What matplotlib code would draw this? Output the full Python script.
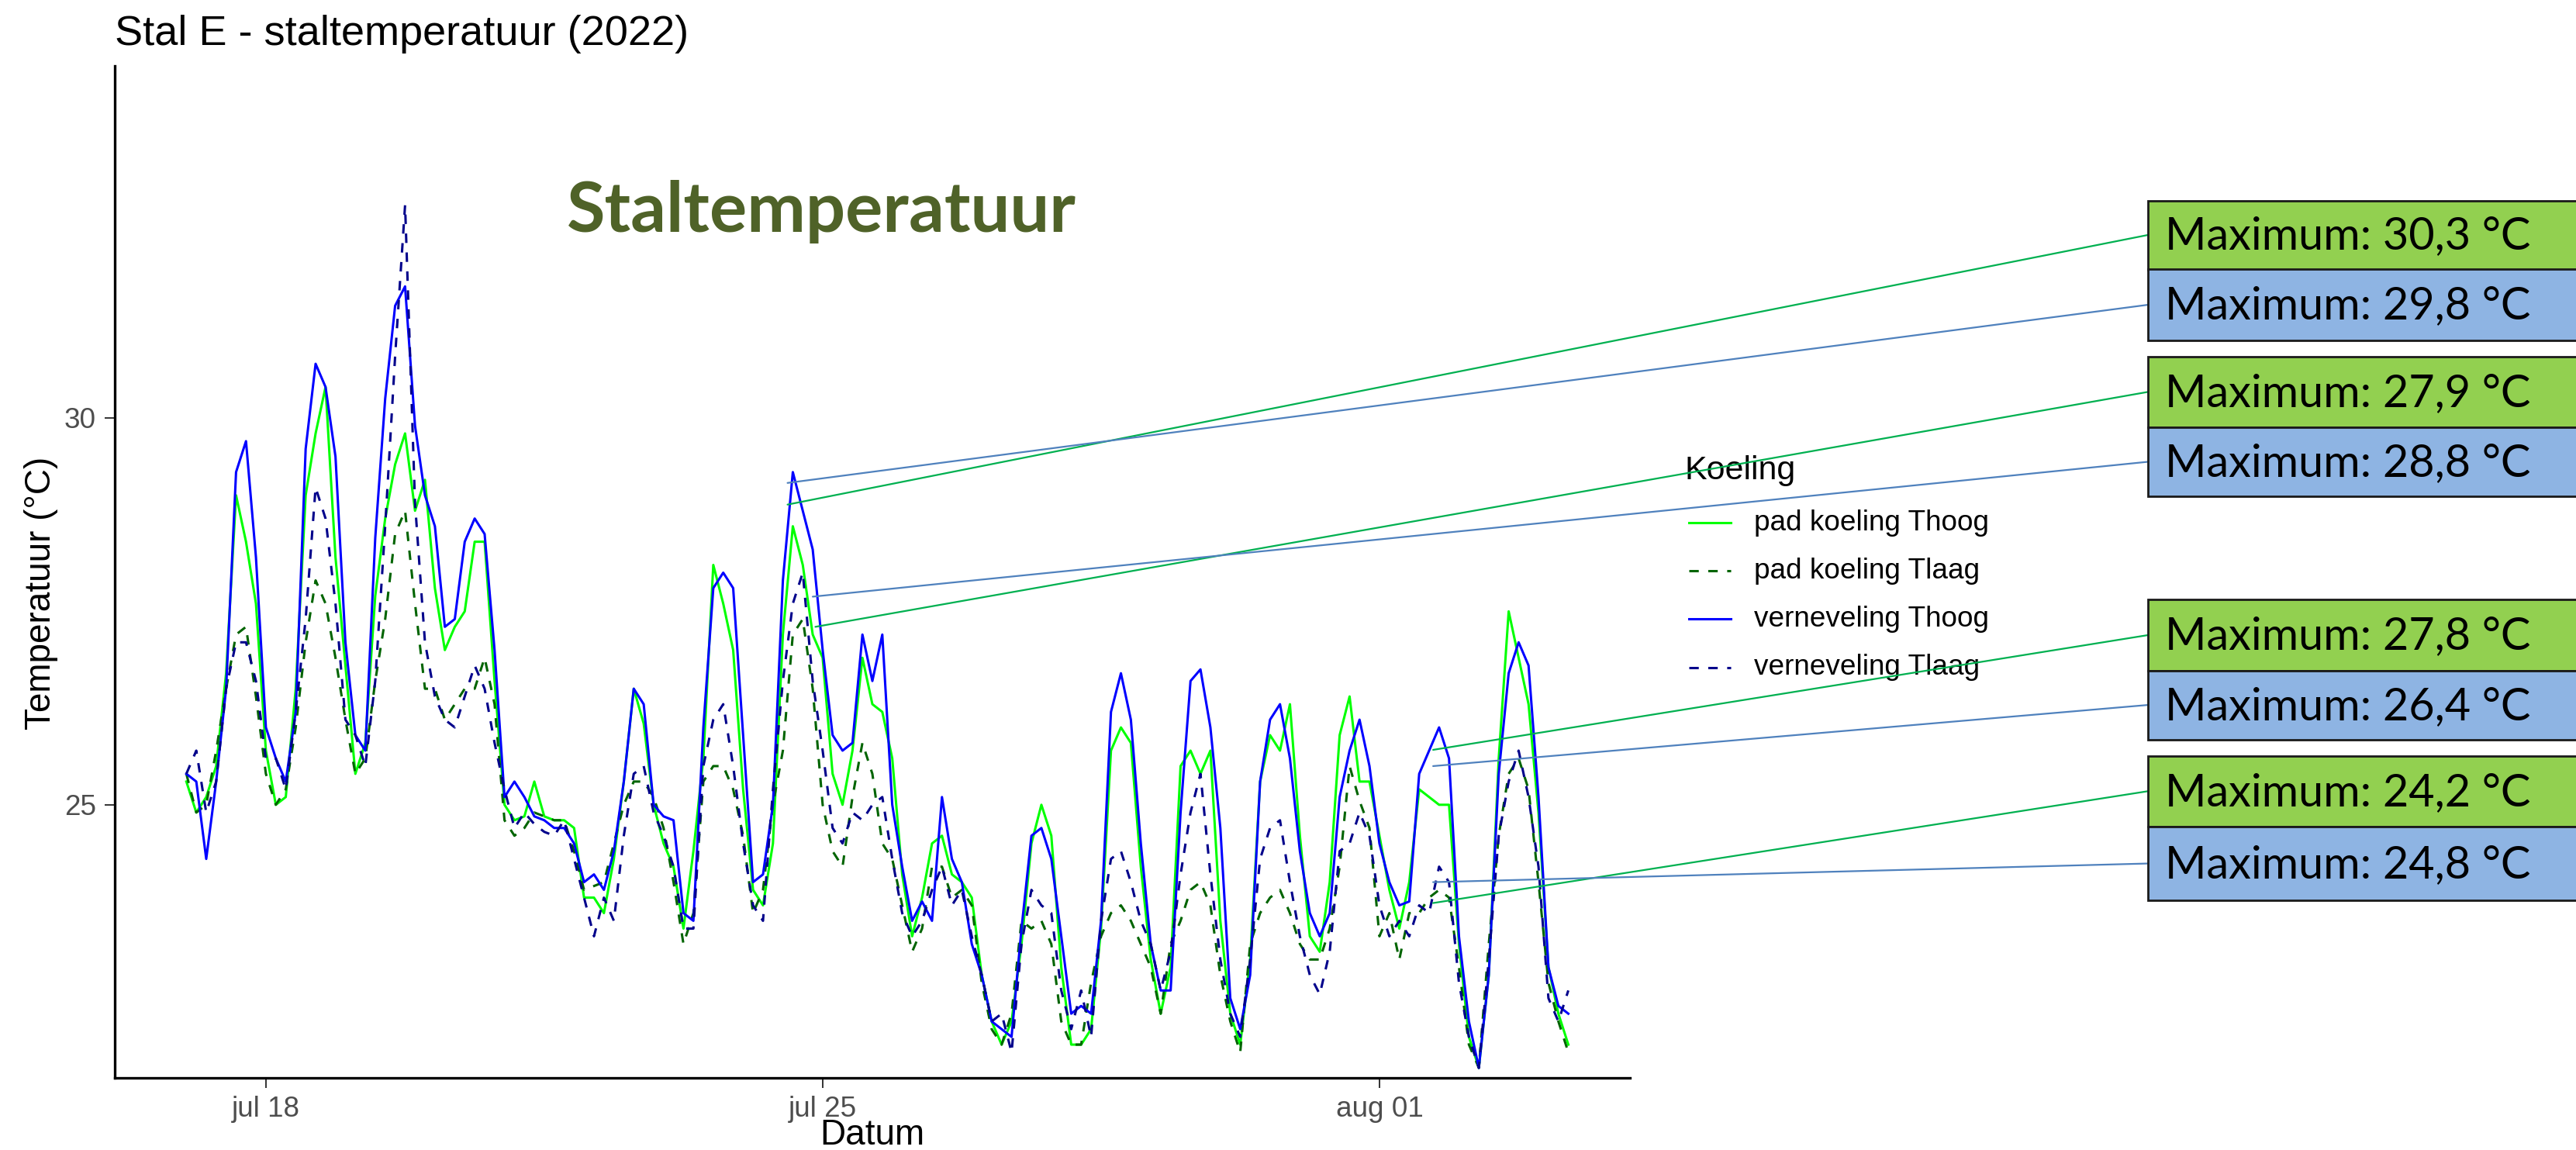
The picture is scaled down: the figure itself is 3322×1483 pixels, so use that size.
import numpy as np
import pandas as pd
import matplotlib
matplotlib.use("Agg")
import matplotlib.pyplot as plt
import matplotlib.dates as mdates
from matplotlib.patches import Rectangle, ConnectionPatch
from matplotlib.lines import Line2D

W, H, DPI = 3323, 1483, 200

# ---------------- data (3-hourly readings, start 2022-07-17 00:00) ----------------
start_time = "2022-07-17 00:00"
step = "3h"

pad_thoog = [
    25.3, 24.9, 25.1, 25.5, 26.7, 29.0, 28.4, 27.6, 25.7, 25.0, 25.1, 26.5, 29.0, 29.8, 30.4, 28.2, 26.8, 25.4, 25.8, 27.7, 28.7, 29.4, 29.8,
    28.8, 29.2, 27.8, 27.0, 27.3, 27.5, 28.4, 28.4, 26.6, 25.0, 24.8, 24.85, 25.3, 24.85, 24.8, 24.8, 24.7, 23.8, 23.8, 23.6, 24.3, 25.3, 26.5,
    26.05, 25.0, 24.5, 24.2, 23.4, 24.4, 25.6, 28.1, 27.6, 27.0, 25.2, 23.9, 23.7, 24.5, 27.2, 28.6, 28.1, 27.2, 26.9, 25.4, 25.0, 25.7, 26.9, 26.3,
    26.2, 25.6, 24.1, 23.3, 23.8, 24.5, 24.6, 24.1, 24.0, 23.8, 22.8, 22.2, 21.9, 22.2, 23.2, 24.5, 25.0, 24.6, 22.9, 21.9, 21.9, 22.1, 23.4,
    25.7, 26.0, 25.8, 24.2, 23.0, 22.3, 22.9, 25.5, 25.7, 25.4, 25.7, 23.5, 22.3, 21.9, 23.0, 25.3, 25.9, 25.7, 26.3, 24.6, 23.3, 23.1, 24.0, 25.9,
    26.4, 25.3, 25.3, 24.6, 23.9, 23.4, 24.0, 25.2, 25.1, 25.0, 25.0, 23.2, 22.0, 21.6, 22.8, 25.6, 27.5, 26.9, 26.3, 24.9, 22.9, 22.3, 21.9,
]
pad_tlaag = [
    25.4, 24.9, 25.0, 25.7, 26.5, 27.2, 27.3, 26.4, 25.4, 25.0, 25.2, 26.0, 27.1, 27.9, 27.6, 26.9, 26.1, 25.4, 25.6, 26.6, 27.4, 28.5, 28.8,
    27.6, 26.5, 26.5, 26.1, 26.3, 26.5, 26.5, 26.9, 26.3, 24.8, 24.6, 24.7, 24.9, 24.85, 24.8, 24.8, 24.4, 23.9, 23.95, 24.0, 24.5, 25.0, 25.3,
    25.3, 25.1, 24.7, 24.0, 23.2, 23.6, 25.3, 25.5, 25.5, 25.2, 24.6, 23.6, 23.9, 25.0, 25.7, 27.2, 27.4, 26.5, 25.0, 24.4, 24.2, 25.1, 25.8, 25.4,
    24.5, 24.3, 23.7, 23.1, 23.4, 24.2, 24.2, 23.8, 23.9, 23.7, 22.7, 22.1, 21.9, 22.3, 23.5, 23.4, 23.5, 23.2, 22.2, 21.9, 21.9, 22.7, 23.3,
    23.6, 23.7, 23.5, 23.2, 22.9, 22.3, 23.2, 23.5, 23.9, 24.0, 23.7, 22.8, 22.2, 21.8, 23.2, 23.6, 23.8, 23.9, 23.6, 23.2, 23.0, 23.0, 23.4, 24.2,
    25.5, 25.05, 24.7, 23.3, 23.6, 23.0, 23.6, 23.6, 23.8, 23.9, 23.8, 22.9, 21.9, 21.6, 23.2, 24.6, 25.4, 25.6, 25.2, 24.0, 22.7, 22.2, 21.8,
]
vern_thoog = [
    25.4, 25.3, 24.3, 25.3, 26.5, 29.3, 29.7, 28.2, 26.0, 25.6, 25.3, 26.2, 29.6, 30.7, 30.4, 29.5, 27.1, 25.9, 25.7, 28.45, 30.25, 31.45, 31.7,
    29.9, 29.0, 28.6, 27.3, 27.4, 28.4, 28.7, 28.5, 27.0, 25.1, 25.3, 25.1, 24.85, 24.8, 24.7, 24.7, 24.5, 24.0, 24.1, 23.9, 24.4, 25.3, 26.5,
    26.3, 25.0, 24.85, 24.8, 23.6, 23.5, 26.0, 27.8, 28.0, 27.8, 25.9, 24.0, 24.1, 25.0, 27.9, 29.3, 28.8, 28.3, 27.0, 25.9, 25.7, 25.8, 27.2, 26.6,
    27.2, 25.0, 24.2, 23.5, 23.75, 23.5, 25.1, 24.3, 24.0, 23.2, 22.8, 22.2, 22.1, 22.0, 23.4, 24.6, 24.7, 24.3, 23.3, 22.3, 22.4, 22.3, 23.5,
    26.2, 26.7, 26.1, 24.5, 23.2, 22.6, 22.6, 24.9, 26.6, 26.75, 26.0, 24.7, 22.5, 22.1, 22.8, 25.3, 26.1, 26.3, 25.6, 24.4, 23.6, 23.3, 23.6, 25.1,
    25.7, 26.1, 25.5, 24.5, 24.0, 23.7, 23.75, 25.4, 25.7, 26.0, 25.6, 23.3, 22.2, 21.6, 22.8, 25.4, 26.7, 27.1, 26.8, 25.1, 22.9, 22.4, 22.3,
]
vern_tlaag = [
    25.4, 25.7, 24.9, 25.3, 26.5, 27.1, 27.1, 26.6, 25.6, 25.6, 25.2, 26.2, 27.4, 29.1, 28.7, 27.6, 26.1, 25.9, 25.5, 26.6, 28.6, 30.8, 32.75,
    28.9, 27.1, 26.4, 26.1, 26.0, 26.4, 26.8, 26.5, 25.8, 25.2, 24.7, 24.9, 24.75, 24.65, 24.6, 24.8, 24.3, 23.8, 23.3, 23.8, 23.5, 24.6, 25.4,
    25.5, 24.9, 24.6, 24.2, 23.4, 23.4, 25.5, 26.1, 26.3, 25.5, 24.5, 23.7, 23.5, 25.2, 26.6, 27.6, 28.0, 26.6, 25.7, 24.7, 24.5, 24.9, 24.8, 25.0,
    25.1, 24.3, 23.6, 23.3, 23.5, 23.9, 24.2, 23.7, 23.9, 23.3, 22.8, 22.2, 22.3, 21.8, 23.2, 23.9, 23.7, 23.6, 22.6, 22.1, 22.6, 22.0, 23.5,
    24.3, 24.4, 24.0, 23.5, 23.2, 22.6, 23.1, 24.1, 24.9, 25.4, 24.1, 23.0, 22.3, 22.0, 23.0, 24.3, 24.7, 24.8, 24.0, 23.3, 22.8, 22.55, 23.1, 24.4,
    24.5, 24.9, 24.6, 23.7, 23.3, 23.5, 23.3, 23.7, 23.6, 24.2, 24.0, 22.7, 22.0, 21.6, 23.0, 24.6, 25.3, 25.7, 25.1, 24.2, 22.5, 22.2, 22.6,
]

series_names = ["pad koeling Thoog", "pad koeling Tlaag", "verneveling Thoog", "verneveling Tlaag"]
series_values = [pad_thoog, pad_tlaag, vern_thoog, vern_tlaag]
series_colors = ["#00FF00", "#006400", "#0000FF", "#00008B"]
series_styles = ["-", "--", "-", "--"]

xtick_dates = ["2022-07-18", "2022-07-25", "2022-08-01"]
xtick_labels = ["jul 18", "jul 25", "aug 01"]
ytick_values = [25, 30]
x_limits = ["2022-07-16 02:24", "2022-08-04 03:36"]
y_limits = [21.47, 34.55]

# annotation boxes (text labels) and the points they point to
max_labels = ["Maximum: 30,3 °C", "Maximum: 29,8 °C", "Maximum: 27,9 °C", "Maximum: 28,8 °C",
              "Maximum: 27,8 °C", "Maximum: 26,4 °C", "Maximum: 24,2 °C", "Maximum: 24,8 °C"]
anchor_times = ["2022-07-24 13:24", "2022-07-24 13:24", "2022-07-24 21:48", "2022-07-24 21:00",
                "2022-08-01 16:12", "2022-08-01 16:12", "2022-08-01 16:12", "2022-08-01 16:12"]
anchor_temps = [28.88, 29.16, 27.30, 27.69, 25.71, 25.50, 23.73, 24.00]
box_kind = ["pad", "vern", "pad", "vern", "pad", "vern", "pad", "vern"]
box_fill = {"pad": "#92D050", "vern": "#8EB4E3"}
line_col = {"pad": "#00B050", "vern": "#4F81BD"}
# box vertical extents in pixels (top, bottom)
box_rows = [(258.5, 347.5), (347.5, 438.6), (459.8, 551.0), (551.0, 640.0),
            (773.4, 864.6), (864.6, 953.6), (974.7, 1065.9), (1065.9, 1161.2)]
BOX_LEFT = 2770

# ---------------- figure ----------------
fig = plt.figure(figsize=(W / DPI, H / DPI), dpi=DPI)
fig.patch.set_facecolor("white")


def P(x, y):
    return (x / W, 1 - y / H)


ax_l, ax_r, ax_t, ax_b = 148, 2102, 85, 1390
ax = fig.add_axes([ax_l / W, 1 - ax_b / H, (ax_r - ax_l) / W, (ax_b - ax_t) / H])

times = pd.date_range(start=start_time, periods=len(pad_thoog), freq=step)
for name, vals, col, ls in zip(series_names, series_values, series_colors, series_styles):
    kw = dict(color=col, lw=1.1, label=name)
    if ls == "--":
        kw["dashes"] = (4, 4)
    ax.plot(times, vals, **kw)

ax.set_xlim(pd.Timestamp(x_limits[0]), pd.Timestamp(x_limits[1]))
ax.set_ylim(*y_limits)
ax.set_xticks([pd.Timestamp(d) for d in xtick_dates])
ax.set_xticklabels(xtick_labels)
ax.set_yticks(ytick_values)
ax.set_yticklabels([str(v) for v in ytick_values])

for s in ["top", "right"]:
    ax.spines[s].set_visible(False)
for s in ["left", "bottom"]:
    ax.spines[s].set_linewidth(1.2)
    ax.spines[s].set_color("black")
ax.tick_params(axis="both", length=4.7, width=0.7, color="#333333",
               labelcolor="#4D4D4D", labelsize=13.3)
ax.tick_params(axis="x", pad=3.5)
ax.tick_params(axis="y", pad=4)
for lab in ax.get_xticklabels() + ax.get_yticklabels():
    lab.set_family("Liberation Sans")

# titles
fig.text(*P(148, 58), "Stal E - staltemperatuur (2022)", family="Liberation Sans",
         fontsize=19.5, color="black", ha="left", va="baseline")
fig.text(*P(1125, 1464), "Datum", family="Liberation Sans", fontsize=16.5,
         color="black", ha="center", va="center")
fig.text(*P(53, 765), "Temperatuur (°C)", family="Liberation Sans", fontsize=16.5,
         color="black", ha="center", va="center", rotation=90)

renderer = fig.canvas.get_renderer()


def fit_width(t, target):
    bb = t.get_window_extent(renderer=renderer)
    t.set_fontsize(t.get_fontsize() * target / bb.width)


big = fig.text(*P(731, 299), "Staltemperatuur", family="Lato", fontweight="bold",
               fontsize=32, color="#4F6228", ha="left", va="baseline")
fit_width(big, 657)

# legend (drawn manually)
fig.text(*P(2173, 618), "Koeling", family="Liberation Sans", fontsize=15.5,
         color="black", ha="left", va="baseline")
leg_y = [674, 736, 798, 861]
for name, col, ls, yy in zip(series_names, series_colors, series_styles, leg_y):
    x0, y0 = P(2178, yy)
    x1, _ = P(2232, yy)
    ln = Line2D([x0, x1], [y0, y0], transform=fig.transFigure, color=col, lw=1.1)
    if ls == "--":
        ln.set_dashes((4, 4))
    fig.add_artist(ln)
    fig.text(*P(2262, yy), name, family="Liberation Sans", fontsize=13.3,
             color="black", ha="left", va="center")

# annotation boxes and connectors
for lab, kind, (top, bot), t_at, v_at in zip(max_labels, box_kind, box_rows, anchor_times, anchor_temps):
    x0, y0 = P(BOX_LEFT, bot)
    rect = Rectangle((x0, y0), 1.02 - x0, (bot - top) / H, transform=fig.transFigure,
                     facecolor=box_fill[kind], edgecolor="#1a1a1a", lw=1.0, zorder=5)
    fig.add_artist(rect)
    mid = (top + bot) / 2
    txt = fig.text(*P(2792, mid + 2), lab, family="Lato", fontsize=22, color="black",
                   ha="left", va="center", zorder=6)
    fit_width(txt, 472)
    con = ConnectionPatch(xyA=(mdates.date2num(pd.Timestamp(t_at)), v_at), coordsA=ax.transData,
                          xyB=P(BOX_LEFT, mid), coordsB=fig.transFigure,
                          color=line_col[kind], lw=0.8, zorder=4)
    fig.add_artist(con)

fig.savefig("out.png", dpi=DPI, facecolor="white")
